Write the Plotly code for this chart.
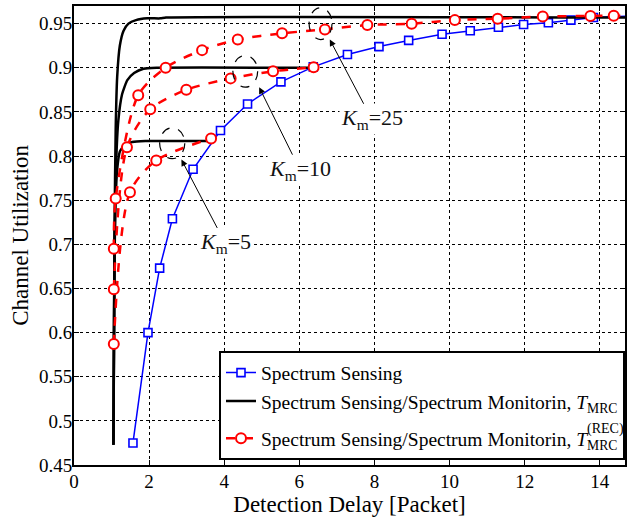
import plotly.graph_objects as go

# ---------------- data ----------------
# Spectrum Sensing (blue squares)
ss_x = [1.57, 1.97, 2.28, 2.62, 3.17, 3.90, 4.62, 5.51, 6.37, 7.28, 8.12, 8.91, 9.80,
        10.55, 11.30, 11.97, 12.63, 13.23, 13.83, 14.95]
ss_y = [0.475, 0.600, 0.673, 0.729, 0.785, 0.829, 0.859, 0.884, 0.901, 0.915, 0.924,
        0.931, 0.938, 0.942, 0.946, 0.949, 0.951, 0.954, 0.957, 0.959]

# Spectrum Sensing / Spectrum Monitoring, T_MRC (black), Km = 5, 10, 25
mrc5_x = [1.05, 1.07, 1.10, 1.15, 1.22, 1.35, 1.55, 1.9, 3.65]
mrc5_y = [0.473, 0.65, 0.74, 0.785, 0.805, 0.813, 0.816, 0.817, 0.817]
mrc10_x = [1.05, 1.08, 1.12, 1.18, 1.28, 1.42, 1.6, 1.85, 2.2, 6.38]
mrc10_y = [0.473, 0.70, 0.79, 0.84, 0.870, 0.886, 0.894, 0.899, 0.900, 0.900]
mrc25_x = [1.05, 1.08, 1.11, 1.15, 1.22, 1.32, 1.45, 1.65, 1.95, 2.3, 2.45, 14.95]
mrc25_y = [0.473, 0.72, 0.83, 0.89, 0.925, 0.942, 0.950, 0.954, 0.956, 0.956, 0.957, 0.957]

# Spectrum Sensing / Spectrum Monitoring, T_MRC^(REC) (red circles), Km = 5, 10, 25
rec5_x = [1.06, 1.49, 2.19, 3.65]
rec5_y = [0.587, 0.759, 0.795, 0.820]
rec10_x = [1.06, 1.41, 2.03, 2.99, 4.17, 5.30, 6.38]
rec10_y = [0.649, 0.810, 0.853, 0.875, 0.888, 0.896, 0.9005]
rec25_x = [1.06, 1.11, 1.71, 2.44, 3.41, 4.36, 5.54, 6.68, 7.81, 8.99, 10.14, 11.28,
           12.48, 13.75, 14.37, 14.95]
rec25_y = [0.695, 0.752, 0.869, 0.900, 0.920, 0.932, 0.939, 0.9435, 0.9484, 0.950,
           0.954, 0.9556, 0.958, 0.9587, 0.959, 0.959]

x_ticks = [0, 2, 4, 6, 8, 10, 12, 14]
x_labels = ["0", "2", "4", "6", "8", "10", "12", "14"]
y_ticks = [0.45, 0.5, 0.55, 0.6, 0.65, 0.7, 0.75, 0.8, 0.85, 0.9, 0.95]
y_labels = ["0.45", "0.5", "0.55", "0.6", "0.65", "0.7", "0.75", "0.8", "0.85", "0.9", "0.95"]

km_labels = ["5", "10", "25"]
# ellipse boxes (x0, x1, y0, y1) around the curve crossing for each Km
ell = [(2.28, 2.95, 0.797, 0.832), (4.23, 4.89, 0.878, 0.914), (6.26, 6.87, 0.932, 0.968)]
# arrow head (data coords) and label centre
arrow_head = [(2.86, 0.796), (4.93, 0.878), (6.81, 0.932)]
label_pos = [(4.03, 0.701), (6.02, 0.784), (7.93, 0.8417)]

FONT = "Liberation Serif, Times New Roman, serif"

fig = go.Figure()

fig.add_trace(go.Scatter(
    x=ss_x, y=ss_y, mode="lines+markers", name="Spectrum Sensing",
    legendgroup="a",
    line=dict(color="#0000ff", width=1.5),
    marker=dict(symbol="square", size=8, color="white",
                line=dict(color="#0000ff", width=1.6)),
))

for i, (xs, ys) in enumerate([(mrc5_x, mrc5_y), (mrc10_x, mrc10_y), (mrc25_x, mrc25_y)]):
    fig.add_trace(go.Scatter(
        x=xs, y=ys, mode="lines",
        name="Spectrum Sensing/Spectrum Monitorin, <i>T</i><sub>MRC</sub>",
        legendgroup="a", showlegend=(i == 0),
        line=dict(color="black", width=2.5, shape="spline", smoothing=0.5),
    ))

for i, (xs, ys) in enumerate([(rec5_x, rec5_y), (rec10_x, rec10_y), (rec25_x, rec25_y)]):
    fig.add_trace(go.Scatter(
        x=xs, y=ys, mode="lines+markers",
        name="Spectrum Sensing/Spectrum Monitorin, <i>T</i><sub>MRC</sub>",
        legendgroup="b", showlegend=(i == 0),
        line=dict(color="#ff0000", width=2.5, dash="dash", shape="spline", smoothing=0.8),
        marker=dict(symbol="circle", size=10, color="white",
                    line=dict(color="#ff0000", width=2)),
    ))

shapes = []
for (x0, x1, y0, y1) in ell:
    shapes.append(dict(type="circle", xref="x", yref="y", x0=x0, x1=x1, y0=y0, y1=y1,
                       line=dict(color="black", width=1.2, dash="dash")))

annotations = []
for k, (hx, hy), (lx, ly) in zip(km_labels, arrow_head, label_pos):
    annotations.append(dict(
        x=hx, y=hy, ax=lx, ay=ly, xref="x", yref="y", axref="x", ayref="y",
        text="<i>K</i><sub>m</sub>=" + k, bgcolor="white", borderpad=1,
        showarrow=True, arrowhead=2, arrowsize=1.3, arrowwidth=1,
        arrowcolor="black", standoff=0,
        font=dict(family=FONT, size=22, color="#111111"),
    ))

# superscript "(REC)" of the third legend entry (stacked above the MRC subscript)
annotations.append(dict(
    x=0.928, y=0.079, xref="paper", yref="paper", xanchor="left", yanchor="middle",
    text="(REC)", showarrow=False, font=dict(family=FONT, size=14, color="black"),
))

fig.update_layout(
    width=628, height=519,
    margin=dict(l=74, r=1, t=6, b=54),
    paper_bgcolor="white", plot_bgcolor="white",
    font=dict(family=FONT, size=19, color="black"),
    shapes=shapes, annotations=annotations,
    legend=dict(
        x=1, y=0.01, xanchor="right", yanchor="bottom",
        bgcolor="white", bordercolor="black", borderwidth=2,
        font=dict(family=FONT, size=19.5, color="black"),
        tracegroupgap=9,
    ),
)

axis_common = dict(
    showline=True, linecolor="black", linewidth=2, mirror="ticks",
    ticks="inside", ticklen=5, tickwidth=1, tickcolor="black",
    showgrid=True, gridcolor="black", gridwidth=1.2, griddash="dot",
    zeroline=False, tickfont=dict(family=FONT, size=19, color="black"),
)

fig.update_xaxes(range=[0, 14.67], tickvals=x_ticks, ticktext=x_labels,
                 title=dict(text="Detection Delay [Packet]", font=dict(family=FONT, size=23),
                            standoff=2),
                 **axis_common)
fig.update_yaxes(range=[0.45, 0.97], tickvals=y_ticks, ticktext=y_labels,
                 title=dict(text="Channel Utilization", font=dict(family=FONT, size=23),
                            standoff=4),
                 **axis_common)
try:
    fig.update_yaxes(ticklabelstandoff=-4)
    fig.update_xaxes(ticklabelstandoff=-2)
except Exception:
    pass

fig.write_html("out.html")
